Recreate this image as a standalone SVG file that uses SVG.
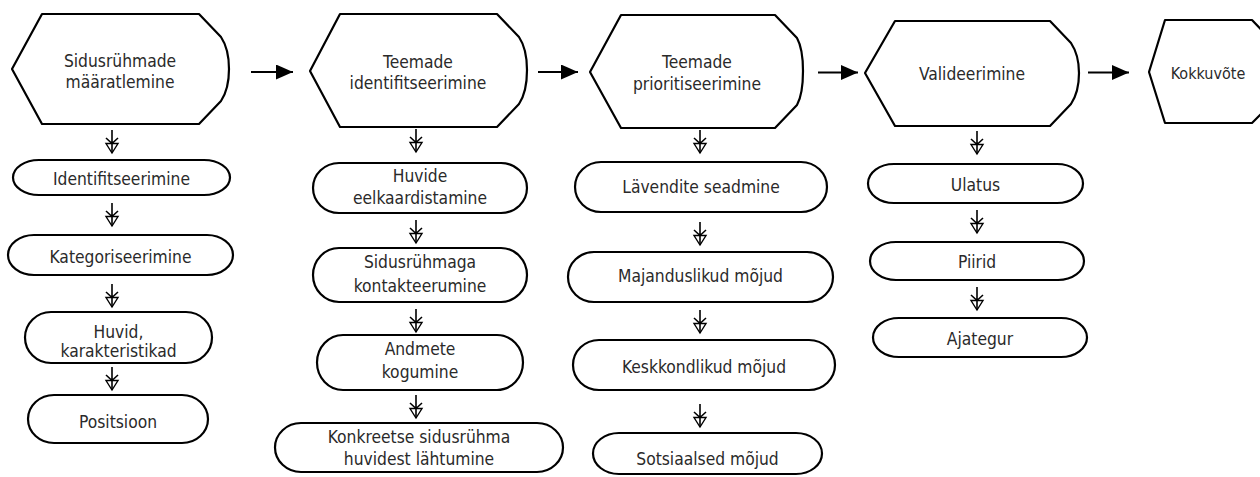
<svg xmlns="http://www.w3.org/2000/svg" xmlns:xlink="http://www.w3.org/1999/xlink" width="1260" height="477" viewBox="0 0 1260 477">
<style>
.shp{fill:#fff;stroke:#000;stroke-width:2.2;stroke-linejoin:round}
.t{font-family:"DejaVu Sans Condensed","DejaVu Sans",sans-serif;font-size:17.3px;fill:#2a2a2a;text-anchor:middle}
.h{stroke:#000;stroke-width:2.2;fill:none}
.dl{stroke:#000;stroke-width:1.6;fill:none}
.dt{fill:#fff;stroke:#000;stroke-width:1.4;stroke-linejoin:miter}
</style>
<defs>
<marker id="ah" markerUnits="userSpaceOnUse" markerWidth="18" markerHeight="16" refX="17" refY="7.5" orient="auto">
<path d="M0,0 L17,7.5 L0,15 Z" fill="#000"/>
</marker>
<g id="dn">
<polygon class="dt" points="-6,-9.5 6,-9.5 0,0"/>
<path class="dl" d="M0,-23 V0 M-6,-15 L0,-9.5 L6,-15"/>
</g>
</defs>
<rect width="1260" height="477" fill="#fff"/>

<g id="connectors">
<line class="h" x1="251" y1="72" x2="293" y2="72" marker-end="url(#ah)"/>
<line class="h" x1="538" y1="72" x2="578" y2="72" marker-end="url(#ah)"/>
<line class="h" x1="818" y1="72.5" x2="858" y2="72.5" marker-end="url(#ah)"/>
<line class="h" x1="1088" y1="72.5" x2="1129" y2="72.5" marker-end="url(#ah)"/>
<use xlink:href="#dn" x="112" y="153"/>
<use xlink:href="#dn" x="112" y="226"/>
<use xlink:href="#dn" x="112" y="307"/>
<use xlink:href="#dn" x="112" y="390"/>
<use xlink:href="#dn" x="416" y="152"/>
<use xlink:href="#dn" x="416" y="243"/>
<use xlink:href="#dn" x="416" y="332"/>
<use xlink:href="#dn" x="416" y="418"/>
<use xlink:href="#dn" x="700" y="153"/>
<use xlink:href="#dn" x="700" y="245"/>
<use xlink:href="#dn" x="700" y="333"/>
<use xlink:href="#dn" x="700" y="427"/>
<use xlink:href="#dn" x="977" y="154"/>
<use xlink:href="#dn" x="977" y="233"/>
<use xlink:href="#dn" x="977" y="310"/>
</g>

<g id="hex1">
<path class="shp" d="M42,14 L199,14 L221,37 C227,46 229,58 229,69 C229,80 227,92 221,101 L199,124 L42,124 L12,69 Z"/>
<text class="t" x="120" y="67">Sidusrühmade</text>
<text class="t" x="120" y="88">määratlemine</text>
</g>
<g id="hex2">
<path class="shp" d="M340,14 L497,14 L519,37 C525,46 527,58 527,70 C527,82 525,95 519,104 L497,127 L340,127 L310,71 Z"/>
<text class="t" x="418" y="68">Teemade</text>
<text class="t" x="418" y="89">identifitseerimine</text>
</g>
<g id="hex3">
<path class="shp" d="M621,15 L775,15 L797,38 C802,47 803,59 803,71 C803,83 802,96 797,105 L775,128 L621,128 L590,72 Z"/>
<text class="t" x="697" y="68">Teemade</text>
<text class="t" x="697" y="90">prioritiseerimine</text>
</g>
<g id="hex4">
<path class="shp" d="M895,21 L1050,21 L1071,43 C1077,52 1079,62 1079,73 C1079,84 1077,95 1071,104 L1050,126 L895,126 L865,73 Z"/>
<text class="t" x="972" y="80">Valideerimine</text>
</g>
<g id="hex5">
<path class="shp" d="M1165,20 L1252,20 L1274,43 C1280,52 1282,62 1282,72 C1282,82 1280,93 1274,101 L1252,123 L1165,123 L1149,72 Z"/>
<text class="t" x="1208" y="79" style="font-size:16px">Kokkuvõte</text>
</g>

<g id="c1n1">
<path class="shp" d="M39,160 H204 A26,17.5 0 0 1 204,195 H39 A26,17.5 0 0 1 39,160 Z"/>
<text class="t" x="121.5" y="185">Identifitseerimine</text>
</g>
<g id="c1n2">
<path class="shp" d="M34,235 H207 A26,20 0 0 1 207,275 H34 A26,20 0 0 1 34,235 Z"/>
<text class="t" x="120.5" y="263">Kategoriseerimine</text>
</g>
<g id="c1n3">
<path class="shp" d="M51,312 H186 A26,25.5 0 0 1 186,363 H51 A26,25.5 0 0 1 51,312 Z"/>
<text class="t" x="118.5" y="338">Huvid,</text>
<text class="t" x="118.5" y="357">karakteristikad</text>
</g>
<g id="c1n4">
<path class="shp" d="M54,395 H182 A26,24 0 0 1 182,443 H54 A26,24 0 0 1 54,395 Z"/>
<text class="t" x="118" y="428">Positsioon</text>
</g>

<g id="c2n1">
<path class="shp" d="M339,163 H501 A26,25 0 0 1 501,213 H339 A26,25 0 0 1 339,163 Z"/>
<text class="t" x="420" y="182">Huvide</text>
<text class="t" x="420" y="204">eelkaardistamine</text>
</g>
<g id="c2n2">
<path class="shp" d="M339,248 H501 A26,27 0 0 1 501,302 H339 A26,27 0 0 1 339,248 Z"/>
<text class="t" x="420" y="268">Sidusrühmaga</text>
<text class="t" x="420" y="292">kontakteerumine</text>
</g>
<g id="c2n3">
<path class="shp" d="M343,335 H497 A26,27.5 0 0 1 497,390 H343 A26,27.5 0 0 1 343,335 Z"/>
<text class="t" x="420" y="355">Andmete</text>
<text class="t" x="420" y="378">kogumine</text>
</g>
<g id="c2n4">
<path class="shp" d="M301,423 H537 A26,24.5 0 0 1 537,472 H301 A26,24.5 0 0 1 301,423 Z"/>
<text class="t" x="419" y="443">Konkreetse sidusrühma</text>
<text class="t" x="419" y="465">huvidest lähtumine</text>
</g>

<g id="c3n1">
<path class="shp" d="M601,162 H801 A26,25 0 0 1 801,212 H601 A26,25 0 0 1 601,162 Z"/>
<text class="t" x="701" y="193">Lävendite seadmine</text>
</g>
<g id="c3n2">
<path class="shp" d="M594,252 H807 A26,25 0 0 1 807,302 H594 A26,25 0 0 1 594,252 Z"/>
<text class="t" x="700.5" y="282">Majanduslikud mõjud</text>
</g>
<g id="c3n3">
<path class="shp" d="M599,340 H809 A26,25 0 0 1 809,390 H599 A26,25 0 0 1 599,340 Z"/>
<text class="t" x="704" y="373">Keskkondlikud mõjud</text>
</g>
<g id="c3n4">
<path class="shp" d="M619,433 H796 A26,20.5 0 0 1 796,474 H619 A26,20.5 0 0 1 619,433 Z"/>
<text class="t" x="707.5" y="465">Sotsiaalsed mõjud</text>
</g>

<g id="c4n1">
<path class="shp" d="M894,164 H1057 A26,19.5 0 0 1 1057,203 H894 A26,19.5 0 0 1 894,164 Z"/>
<text class="t" x="975.5" y="191">Ulatus</text>
</g>
<g id="c4n2">
<path class="shp" d="M896,242 H1058 A26,19 0 0 1 1058,280 H896 A26,19 0 0 1 896,242 Z"/>
<text class="t" x="977" y="268">Piirid</text>
</g>
<g id="c4n3">
<path class="shp" d="M899,318 H1061 A26,19.5 0 0 1 1061,357 H899 A26,19.5 0 0 1 899,318 Z"/>
<text class="t" x="980" y="345">Ajategur</text>
</g>
</svg>
